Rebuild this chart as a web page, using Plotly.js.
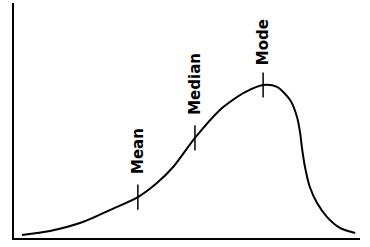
<!DOCTYPE html>
<html>
<head>
<meta charset="utf-8">
<script src="https://cdn.plot.ly/plotly-3.0.1.min.js"></script>
<style>html,body{margin:0;padding:0;background:#fff;}#chart{width:370px;height:247px;}</style>
</head>
<body>
<div id="chart"></div>
<script>
// Skewed distribution curve (arbitrary units)
var curveX = [2.3, 10.4, 19.9, 27.7, 35.8, 41.3, 46.0, 52.3, 59.5, 62.4, 66.8, 72.0, 76.0, 79.8, 81.8, 82.7, 83.2, 84.1, 85.5, 87.6, 90.5, 94.2, 98.6];
var curveY = [1.3, 3.0, 6.8, 11.9, 17.4, 23.4, 30.2, 42.6, 54.5, 57.9, 62.1, 65.1, 64.3, 58.7, 51.5, 44.7, 38.7, 30.2, 21.7, 14.9, 8.9, 4.3, 2.1];

// Marked statistics
var statNames = ["Mean", "Median", "Mode"];
var statX = [35.8, 52.3, 72.0];
var statY = [17.4, 42.6, 65.1];
var labelGap = [21, 21, 18];

var traces = [
  {
    x: curveX, y: curveY, type: "scatter", mode: "lines",
    line: {color: "#000", width: 2, shape: "spline", smoothing: 0.8},
    hoverinfo: "skip", showlegend: false
  },
  {
    x: statX, y: statY, type: "scatter", mode: "markers",
    marker: {symbol: "line-ns", size: 18, line: {color: "#000", width: 1.5}},
    hoverinfo: "skip", showlegend: false
  }
];

var annotations = statNames.map(function (name, i) {
  return {
    x: statX[i], y: statY[i], xref: "x", yref: "y",
    text: name, showarrow: false, textangle: -90,
    xanchor: "center", yanchor: "bottom", yshift: labelGap[i],
    font: {family: "DejaVu Sans", size: 15, color: "#000", weight: "bold"}
  };
});

var layout = {
  width: 370, height: 247,
  margin: {l: 14, r: 10, t: 3, b: 9, pad: 0},
  paper_bgcolor: "#fff", plot_bgcolor: "#fff",
  showlegend: false,
  xaxis: {range: [0, 100], showline: true, linecolor: "#000", linewidth: 2,
          showgrid: false, zeroline: false, showticklabels: false, ticks: "", fixedrange: true},
  yaxis: {range: [0, 100], showline: true, linecolor: "#000", linewidth: 2,
          showgrid: false, zeroline: false, showticklabels: false, ticks: "", fixedrange: true},
  annotations: annotations
};

Plotly.newPlot("chart", traces, layout, {staticPlot: true, displayModeBar: false});
</script>
</body>
</html>
